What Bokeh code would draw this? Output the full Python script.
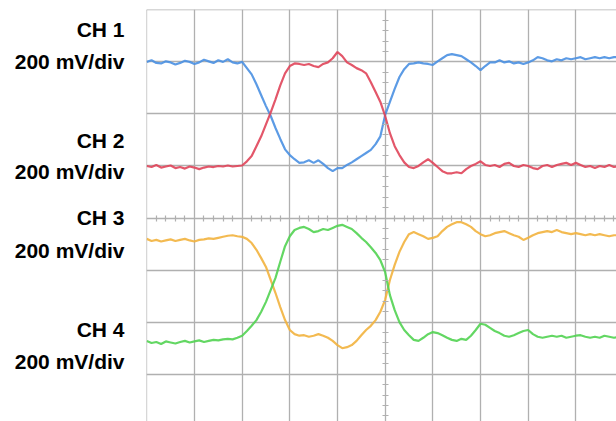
from bokeh.plotting import figure
from bokeh.models import Range1d, FixedTicker, LinearAxis
from bokeh.embed import file_html
from bokeh.resources import INLINE

# Horizontal sample positions, in screen divisions (0.1 div per sample)
TIME_DIV = [i / 10 for i in range(100)]

# Channel traces, in vertical divisions relative to the screen centre
CH1 = [3.00, 3.03, 2.98, 2.97, 3.01, 2.99, 2.95, 2.98, 3.02, 3.00,
       2.96, 2.99, 3.04, 3.01, 2.98, 3.03, 3.00, 3.05, 2.99, 2.97,
       3.00, 2.88, 2.76, 2.57, 2.36, 2.15, 1.96, 1.73, 1.52, 1.32,
       1.21, 1.13, 1.06, 1.07, 1.11, 1.06, 1.11, 1.04, 0.96, 0.90,
       0.96, 0.96, 1.02, 1.07, 1.13, 1.19, 1.25, 1.31, 1.42, 1.57,
       1.98, 2.23, 2.48, 2.71, 2.86, 2.96, 2.97, 2.99, 2.97, 2.96,
       2.94, 3.01, 3.07, 3.13, 3.15, 3.13, 3.11, 3.05, 2.99, 2.92,
       2.84, 2.92, 2.99, 2.99, 3.03, 2.99, 3.01, 2.97, 2.99, 2.96,
       2.99, 3.03, 3.09, 3.07, 3.03, 3.01, 3.05, 3.03, 3.07, 3.05,
       3.07, 3.09, 3.05, 3.07, 3.09, 3.07, 3.09, 3.07, 3.09, 3.09]

CH2 = [1.00, 0.98, 1.02, 0.97, 0.99, 1.01, 0.96, 0.98, 0.95, 0.99,
       0.97, 0.94, 0.97, 0.99, 0.98, 1.00, 0.99, 1.01, 0.99, 1.00,
       1.01, 1.09, 1.19, 1.38, 1.57, 1.80, 2.03, 2.28, 2.55, 2.78,
       2.92, 2.97, 2.96, 2.94, 2.96, 2.92, 2.90, 2.96, 2.99, 3.07,
       3.19, 3.11, 2.99, 2.94, 2.88, 2.84, 2.78, 2.61, 2.42, 2.23,
       1.96, 1.63, 1.38, 1.21, 1.07, 0.98, 0.96, 1.00, 1.07, 1.13,
       1.06, 0.98, 0.90, 0.86, 0.86, 0.88, 0.86, 0.94, 1.00, 1.04,
       1.09, 1.02, 1.00, 1.02, 0.98, 1.04, 1.06, 1.00, 0.98, 1.02,
       1.00, 0.96, 0.94, 1.00, 1.02, 0.98, 1.02, 1.04, 1.06, 1.02,
       1.06, 1.02, 0.98, 1.00, 0.96, 1.00, 0.98, 1.02, 0.98, 1.00]

CH3 = [-0.40, -0.44, -0.42, -0.45, -0.43, -0.41, -0.44, -0.42, -0.40, -0.43,
       -0.45, -0.42, -0.41, -0.39, -0.40, -0.38, -0.36, -0.34, -0.33, -0.35,
       -0.36, -0.40, -0.48, -0.61, -0.77, -0.94, -1.19, -1.44, -1.71, -1.96,
       -2.15, -2.23, -2.26, -2.25, -2.28, -2.26, -2.23, -2.26, -2.30, -2.36,
       -2.44, -2.50, -2.48, -2.44, -2.36, -2.25, -2.15, -2.07, -1.96, -1.80,
       -1.57, -1.19, -0.90, -0.65, -0.46, -0.31, -0.27, -0.31, -0.35, -0.40,
       -0.38, -0.35, -0.25, -0.17, -0.12, -0.08, -0.08, -0.12, -0.17, -0.25,
       -0.31, -0.35, -0.33, -0.29, -0.27, -0.25, -0.29, -0.33, -0.36, -0.42,
       -0.38, -0.33, -0.29, -0.27, -0.25, -0.27, -0.23, -0.27, -0.29, -0.31,
       -0.29, -0.31, -0.33, -0.31, -0.33, -0.31, -0.33, -0.35, -0.33, -0.33]

CH4 = [-2.36, -2.40, -2.38, -2.42, -2.37, -2.39, -2.41, -2.38, -2.36, -2.39,
       -2.37, -2.35, -2.38, -2.36, -2.34, -2.35, -2.33, -2.32, -2.33, -2.30,
       -2.26, -2.17, -2.07, -1.96, -1.80, -1.61, -1.38, -1.15, -0.84, -0.54,
       -0.35, -0.23, -0.19, -0.17, -0.21, -0.27, -0.25, -0.21, -0.23, -0.19,
       -0.15, -0.13, -0.17, -0.21, -0.29, -0.38, -0.46, -0.56, -0.67, -0.81,
       -1.04, -1.48, -1.77, -2.00, -2.15, -2.25, -2.34, -2.36, -2.30, -2.23,
       -2.19, -2.21, -2.25, -2.30, -2.34, -2.36, -2.32, -2.34, -2.26, -2.15,
       -2.03, -2.05, -2.11, -2.17, -2.21, -2.26, -2.28, -2.25, -2.21, -2.17,
       -2.15, -2.23, -2.28, -2.30, -2.28, -2.26, -2.28, -2.26, -2.30, -2.28,
       -2.26, -2.25, -2.28, -2.30, -2.28, -2.30, -2.26, -2.28, -2.30, -2.28]

TRACE_COLORS = ["#4a90e2", "#e0455a", "#f2b23e", "#52d352"]

# Channel captions on the left, placed at these vertical levels
LABEL_LEVELS = [3.62, 3.01, 1.49, 0.90, 0.01, -0.62, -2.14, -2.75]
LABEL_TEXTS = ["CH 1", "200 mV/div", "CH 2", "200 mV/div",
               "CH 3", "200 mV/div", "CH 4", "200 mV/div"]

# Graticule
X_DIVS = list(range(11))
Y_DIVS = list(range(-4, 5))
X_SUBDIVS = [i / 5 for i in range(51) if i % 5]
Y_SUBDIVS = [i / 5 for i in range(-20, 21) if i % 5]

GRID_COLOR = "#b0b0b0"

p = figure(width=616, height=421,
           x_range=Range1d(-0.006, 9.853), y_range=Range1d(-3.908, 4.006),
           x_axis_location=None, y_axis_location="left",
           toolbar_location=None, output_backend="svg",
           min_border_left=146, min_border_top=9,
           min_border_right=0, min_border_bottom=0,
           outline_line_color=None,
           background_fill_color="white", border_fill_color="white")

p.xgrid.ticker = FixedTicker(ticks=X_DIVS)
p.ygrid.ticker = FixedTicker(ticks=Y_DIVS)
for g in (p.xgrid, p.ygrid):
    g.grid_line_color = GRID_COLOR
    g.grid_line_width = 1.3

# Left axis carries the channel captions only
ya = p.yaxis[0]
ya.ticker = FixedTicker(ticks=LABEL_LEVELS)
ya.major_label_overrides = {lv: tx for lv, tx in zip(LABEL_LEVELS, LABEL_TEXTS)}
ya.axis_line_color = None
ya.major_tick_line_color = None
ya.minor_tick_line_color = None
ya.major_tick_out = 0
ya.major_tick_in = 0
ya.major_label_standoff = 22
ya.major_label_text_font = "Liberation Sans"
ya.major_label_text_font_style = "bold"
ya.major_label_text_font_size = "21px"
ya.major_label_text_color = "#000000"

# Subdivision ticks along the centre lines
hx = LinearAxis(fixed_location=0,
                ticker=FixedTicker(ticks=[], minor_ticks=X_SUBDIVS),
                axis_line_color=None, major_tick_line_color=None,
                major_label_text_font_size="0px",
                minor_tick_in=3, minor_tick_out=3,
                minor_tick_line_color=GRID_COLOR, minor_tick_line_width=1.2)
p.add_layout(hx, "below")
vy = LinearAxis(fixed_location=5,
                ticker=FixedTicker(ticks=[], minor_ticks=Y_SUBDIVS),
                axis_line_color=None, major_tick_line_color=None,
                major_label_text_font_size="0px",
                minor_tick_in=3, minor_tick_out=3,
                minor_tick_line_color=GRID_COLOR, minor_tick_line_width=1.2)
p.add_layout(vy, "left")

for trace, color in zip([CH1, CH2, CH3, CH4], TRACE_COLORS):
    p.line(TIME_DIV, trace, line_color=color, line_width=2.2, line_alpha=0.9)

open("out.html", "w").write(file_html(p, INLINE))
